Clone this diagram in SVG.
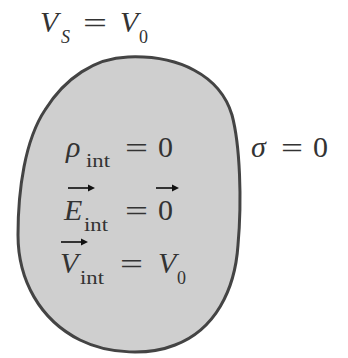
<svg xmlns="http://www.w3.org/2000/svg" width="348" height="358" viewBox="0 0 348 358">
<style>
text{font-family:'Liberation Serif','DejaVu Serif','Times New Roman',serif;fill:#333;font-size:30px}
.i{font-style:italic}
.s{font-size:18px}
.arr{stroke:#333;stroke-width:2;fill:none}
.ah{fill:#111}
</style>
<rect width="348" height="358" fill="#ffffff"/>
<g id="conductor">
<path d="M 128 57 C 178 55, 220 75, 232 115 C 240 145, 242 200, 238 245 C 235 290, 215 330, 175 345 C 150 355, 110 355, 80 340 C 40 320, 18 280, 18 235 C 18 190, 25 140, 45 110 C 65 78, 95 58, 128 57 Z" fill="#cfcfcf" stroke="#444" stroke-width="3"/>
</g>
<g id="label-surface">
<text class="i" x="40" y="32">V</text>
<text class="i s" x="61" y="43">S</text>
<text x="83" y="33" textLength="24" lengthAdjust="spacingAndGlyphs">=</text>
<text class="i" x="120" y="32">V</text>
<text class="s" x="139" y="43">0</text>
</g>
<g id="label-sigma">
<text class="i" x="251" y="157">σ</text>
<text x="281" y="158" textLength="22" lengthAdjust="spacingAndGlyphs">=</text>
<text x="313" y="157">0</text>
</g>
<g id="label-rho">
<text class="i" x="66" y="157">ρ</text>
<text class="s" x="86" y="167" textLength="24" lengthAdjust="spacingAndGlyphs">int</text>
<text x="125" y="158" textLength="23" lengthAdjust="spacingAndGlyphs">=</text>
<text x="158" y="157">0</text>
</g>
<g id="label-E">
<line class="arr" x1="68" y1="188" x2="90" y2="188"/>
<polygon class="ah" points="95,188 88,184.5 88,191.5"/>
<text class="i" x="64" y="220">E</text>
<text class="s" x="84" y="231" textLength="24" lengthAdjust="spacingAndGlyphs">int</text>
<text x="125" y="221" textLength="23" lengthAdjust="spacingAndGlyphs">=</text>
<line class="arr" x1="156" y1="188" x2="174" y2="188"/>
<polygon class="ah" points="179,188 172,184.5 172,191.5"/>
<text x="158" y="220">0</text>
</g>
<g id="label-V">
<line class="arr" x1="61" y1="242" x2="83" y2="242"/>
<polygon class="ah" points="88,242 81,238.5 81,245.5"/>
<text class="i" x="60" y="273">V</text>
<text class="s" x="80" y="284" textLength="24" lengthAdjust="spacingAndGlyphs">int</text>
<text x="120" y="274" textLength="23" lengthAdjust="spacingAndGlyphs">=</text>
<text class="i" x="158" y="273">V</text>
<text class="s" x="177" y="284">0</text>
</g>
</svg>
